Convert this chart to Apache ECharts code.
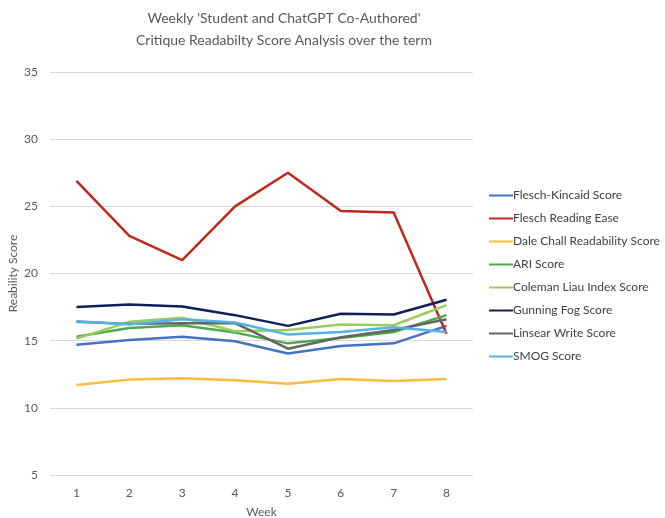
<!DOCTYPE html>
<html>
<head>
<meta charset="utf-8">
<script src="https://cdn.jsdelivr.net/npm/echarts@6/dist/echarts.min.js"></script>
<style>
    html, body { margin: 0; padding: 0; background: #fff; }
    #chart { width: 665px; height: 518px; }
</style>
</head>
<body>
<div id="chart"></div>
<script>
// week categories
var weeks = ['1', '2', '3', '4', '5', '6', '7', '8'];

// scores
var fleschKincaid = [14.7, 15.05, 15.3, 14.95, 14.05, 14.6, 14.8, 16.1];
var fleschEase = [26.9, 22.8, 21.0, 25.0, 27.5, 24.65, 24.55, 15.5];
var daleChall = [11.7, 12.1, 12.2, 12.05, 11.8, 12.15, 12.0, 12.15];
var ari = [15.3, 15.95, 16.15, 15.6, 14.8, 15.2, 15.65, 16.9];
var colemanLiau = [15.15, 16.4, 16.7, 15.7, 15.8, 16.2, 16.15, 17.65];
var gunningFog = [17.5, 17.7, 17.55, 16.9, 16.1, 17.0, 16.95, 18.05];
var linsear = [16.4, 16.25, 16.3, 16.3, 14.4, 15.25, 15.8, 16.6];
var smog = [16.45, 16.2, 16.6, 16.35, 15.45, 15.65, 16.0, 15.65];

var names = ['Flesch-Kincaid Score', 'Flesch Reading Ease', 'Dale Chall Readability Score',
    'ARI Score', 'Coleman Liau Index Score', 'Gunning Fog Score', 'Linsear Write Score', 'SMOG Score'];
var colors = ['#4472C4', '#C0281C', '#F6BE3B', '#4AAA4E', '#9ACD5C', '#0E1F5B', '#656565', '#55B1EA'];
var values = [fleschKincaid, fleschEase, daleChall, ari, colemanLiau, gunningFog, linsear, smog];

var chart = echarts.init(document.getElementById('chart'));

var series = names.map(function (n, i) {
    return {
        name: n,
        type: 'line',
        data: values[i],
        symbol: 'none',
        lineStyle: { width: 2.5, color: colors[i] },
        itemStyle: { color: colors[i] }
    };
});

var option = {
    animation: false,
    textStyle: { fontFamily: 'Lato, Open Sans, sans-serif' },
    title: {
        text: "Weekly 'Student and ChatGPT Co-Authored'\nCritique Readabilty Score Analysis over the term",
        left: 279,
        textAlign: 'center',
        top: 2,
        textStyle: { fontSize: 14, fontWeight: 'normal', color: '#595959', lineHeight: 22 }
    },
    legend: {
        orient: 'vertical',
        left: 489,
        top: 189.5,
        padding: 0,
        itemGap: 11,
        itemWidth: 24,
        itemHeight: 16,
        icon: 'path://M0,7 L24,7 L24,9 L0,9 Z',
        data: names,
        textStyle: { fontSize: 12, color: '#404040', padding: [0, 0, 0, -5] }
    },
    grid: { left: 50, right: 192, top: 72, bottom: 43, outerBoundsMode: 'none' },
    xAxis: {
        type: 'category',
        data: weeks,
        name: 'Week',
        nameLocation: 'middle',
        nameGap: 31,
        nameTextStyle: { fontSize: 12, color: '#595959' },
        axisLine: { show: false },
        axisTick: { show: false },
        axisLabel: { fontSize: 12, color: '#595959', margin: 12 }
    },
    yAxis: {
        type: 'value',
        min: 5,
        max: 35,
        interval: 5,
        name: 'Reability Score',
        nameLocation: 'middle',
        nameGap: 31,
        nameMoveOverlap: false,
        nameTextStyle: { fontSize: 12, color: '#595959' },
        axisLabel: { fontSize: 12, color: '#595959', margin: 12 },
        splitLine: { lineStyle: { color: '#D9D9D9', width: 1 } }
    },
    series: series
};

chart.setOption(option);
</script>
</body>
</html>
